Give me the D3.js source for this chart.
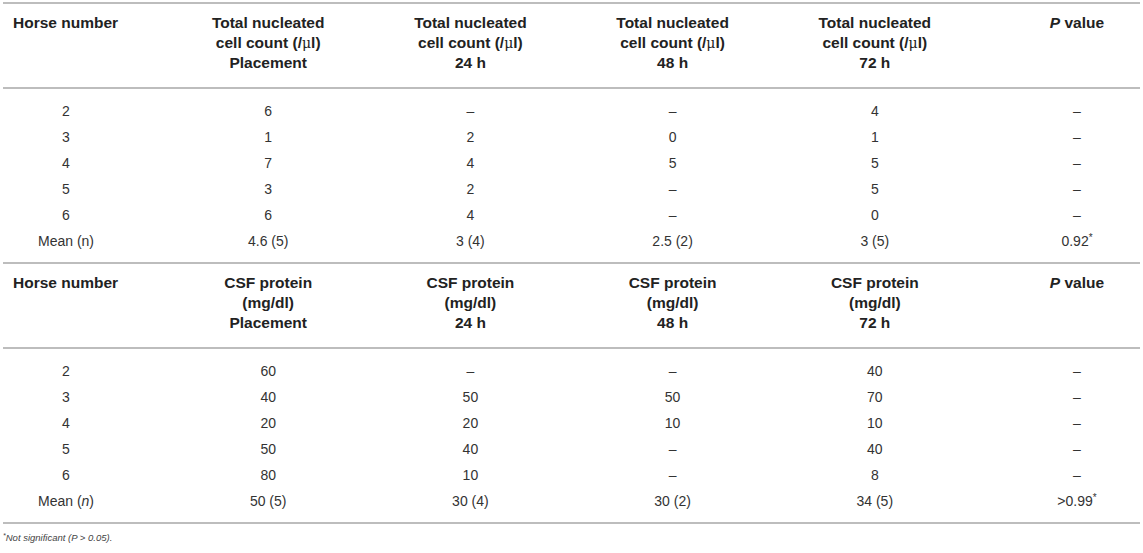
<!DOCTYPE html>
<html>
<head>
<meta charset="utf-8">
<script src="https://cdn.jsdelivr.net/npm/d3@7"></script>
<style>
  body { margin: 0; background: #fff; }
  svg text { font-family: "Liberation Sans", Arial, Helvetica, sans-serif; }
</style>
</head>
<body>
<div id="chart"></div>
<script>
// table values
var horses = ["2", "3", "4", "5", "6"];
var timepoints = ["Placement", "24 h", "48 h", "72 h"];

var cellPlacement = [6, 1, 7, 3, 6];
var cell24 = [null, 2, 4, 2, 4];
var cell48 = [null, 0, 5, null, null];
var cell72 = [4, 1, 5, 5, 0];
var cellMeans = ["4.6 (5)", "3 (4)", "2.5 (2)", "3 (5)"];
var cellP = "0.92";

var protPlacement = [60, 40, 20, 50, 80];
var prot24 = [null, 50, 20, 40, 10];
var prot48 = [null, 50, 10, null, null];
var prot72 = [40, 70, 10, 40, 8];
var protMeans = ["50 (5)", "30 (4)", "30 (2)", "34 (5)"];
var protP = ">0.99";

var width = 1143, height = 553;

var svg = d3.select("#chart")
    .append("svg")
    .attr("width", width)
    .attr("height", height)

// column centres
var x = d3.scalePoint()
    .domain(d3.range(6))
    .range([66, 1077])

function drawRule(y){
    svg.append("line")
        .attr("x1", 3).attr("x2", 1140)
        .attr("y1", y).attr("y2", y)
        .attr("stroke", "#bdbdbd")
        .attr("stroke-width", 2)
}

function section(top, headLines, series, means, pval, italicN){
    drawRule(top)

    var g = svg.append("g")
    var headY = d3.scaleLinear().domain([0, 1]).range([top + 20, top + 40])

    g.append("text")
        .attr("x", 13).attr("y", headY(0)).attr("dy", "0.35em")
        .attr("font-size", 15.5).attr("font-weight", "bold").attr("fill", "#222")
        .text("Horse number")

    timepoints.forEach(function(tp, i){
        var lines = headLines.concat([tp]);
        lines.forEach(function(l, j){
            var t = g.append("text")
                .attr("x", x(i + 1)).attr("y", headY(j)).attr("dy", "0.35em")
                .attr("text-anchor", "middle")
                .attr("font-size", 15.5).attr("font-weight", "bold").attr("fill", "#222")
            if(l.indexOf("μ") >= 0){
                var parts = l.split("μ");
                t.append("tspan").text(parts[0]);
                t.append("tspan").attr("font-weight", "normal").attr("font-family", "DejaVu Serif").attr("font-size", 14).text("μ");
                t.append("tspan").text(parts[1]);
            }else{
                t.text(l);
            }
        })
    })

    var pt = g.append("text")
        .attr("x", x(5)).attr("y", headY(0)).attr("dy", "0.35em")
        .attr("text-anchor", "middle")
        .attr("font-size", 15.5).attr("font-weight", "bold").attr("fill", "#222")
    pt.append("tspan").attr("font-style", "italic").text("P")
    pt.append("tspan").text(" value")

    var bodyTop = top + 85;
    drawRule(bodyTop)

    var y = d3.scaleLinear().domain([0, 1]).range([bodyTop + 23, bodyTop + 49])

    var rows = horses.map(function(h, r){
        return [h].concat(series.map(function(s){
            return s[r] === null ? "–" : String(s[r]);
        })).concat(["–"]);
    })

    rows.forEach(function(row, r){
        g.selectAll(null)
            .data(row).enter().append("text")
            .attr("x", function(d, i){ return x(i); })
            .attr("y", y(r)).attr("dy", "0.35em")
            .attr("text-anchor", "middle")
            .attr("font-size", 14).attr("fill", "#333")
            .text(function(d){ return d; })
    })

    var mr = horses.length;
    var mt = g.append("text")
        .attr("x", x(0)).attr("y", y(mr)).attr("dy", "0.35em")
        .attr("text-anchor", "middle")
        .attr("font-size", 14).attr("fill", "#333")
    mt.append("tspan").text("Mean (")
    mt.append("tspan").attr("font-style", italicN ? "italic" : "normal").text("n")
    mt.append("tspan").text(")")

    g.selectAll(null)
        .data(means).enter().append("text")
        .attr("x", function(d, i){ return x(i + 1); })
        .attr("y", y(mr)).attr("dy", "0.35em")
        .attr("text-anchor", "middle")
        .attr("font-size", 14).attr("fill", "#333")
        .text(function(d){ return d; })

    var pv = g.append("text")
        .attr("x", x(5)).attr("y", y(mr)).attr("dy", "0.35em")
        .attr("text-anchor", "middle")
        .attr("font-size", 14).attr("fill", "#333")
    pv.append("tspan").text(pval)
    pv.append("tspan").attr("font-size", 10).attr("dy", "-0.5em").text("*")

    return y(mr) + 22;
}

var end1 = section(3, ["Total nucleated", "cell count (/μl)"],
    [cellPlacement, cell24, cell48, cell72], cellMeans, cellP, false);
var end2 = section(end1, ["CSF protein", "(mg/dl)"],
    [protPlacement, prot24, prot48, prot72], protMeans, protP, true);
drawRule(end2)

var fn = svg.append("text")
    .attr("x", 3).attr("y", end2 + 17).attr("dy", "0.35em")
    .attr("font-size", 9.5).attr("font-style", "italic").attr("fill", "#444")
fn.append("tspan").attr("font-size", 7).attr("dy", "-0.3em").text("*")
fn.append("tspan").attr("dy", "0.3em").text("Not significant (P > 0.05).")
</script>
</body>
</html>
